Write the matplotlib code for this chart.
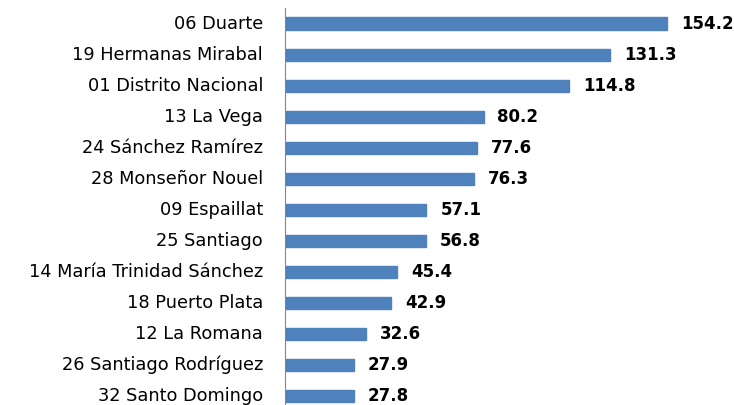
import matplotlib
matplotlib.use("Agg")
import matplotlib.pyplot as plt

# datos
provincias = ["06 Duarte", "19 Hermanas Mirabal", "01 Distrito Nacional", "13 La Vega",
              "24 Sánchez Ramírez", "28 Monseñor Nouel", "09 Espaillat", "25 Santiago",
              "14 María Trinidad Sánchez", "18 Puerto Plata", "12 La Romana",
              "26 Santiago Rodríguez", "32 Santo Domingo"]
valores = [154.2, 131.3, 114.8, 80.2, 77.6, 76.3, 57.1, 56.8, 45.4, 42.9, 32.6, 27.9, 27.8]

plt.rcParams['font.family'] = ['DejaVu Sans']

fig = plt.figure(figsize=(7.34, 4.05), dpi=100)
ax = fig.add_axes([285/734, -6.5/405, 449/734, 403.5/405])

y = list(range(len(valores)))
ax.barh(y, valores, height=0.39, color="#4F81BD", edgecolor="#4F81BD")
for yi, v in zip(y, valores):
    ax.text(v + 5.6, yi, f"{v:.1f}", va="center", ha="left", fontsize=12, fontweight="bold")

ax.set_yticks(y)
ax.set_yticklabels(provincias, fontsize=12.8, va="center")
ax.set_ylim(len(valores) - 0.5, -0.5)
ax.set_xlim(0, 181.3)
ax.tick_params(axis="y", length=0, pad=15.8)
ax.set_xticks([])
for s in ["top", "right", "bottom"]:
    ax.spines[s].set_visible(False)
ax.spines["left"].set_color("#868686")

fig.savefig("out.png", dpi=100)
